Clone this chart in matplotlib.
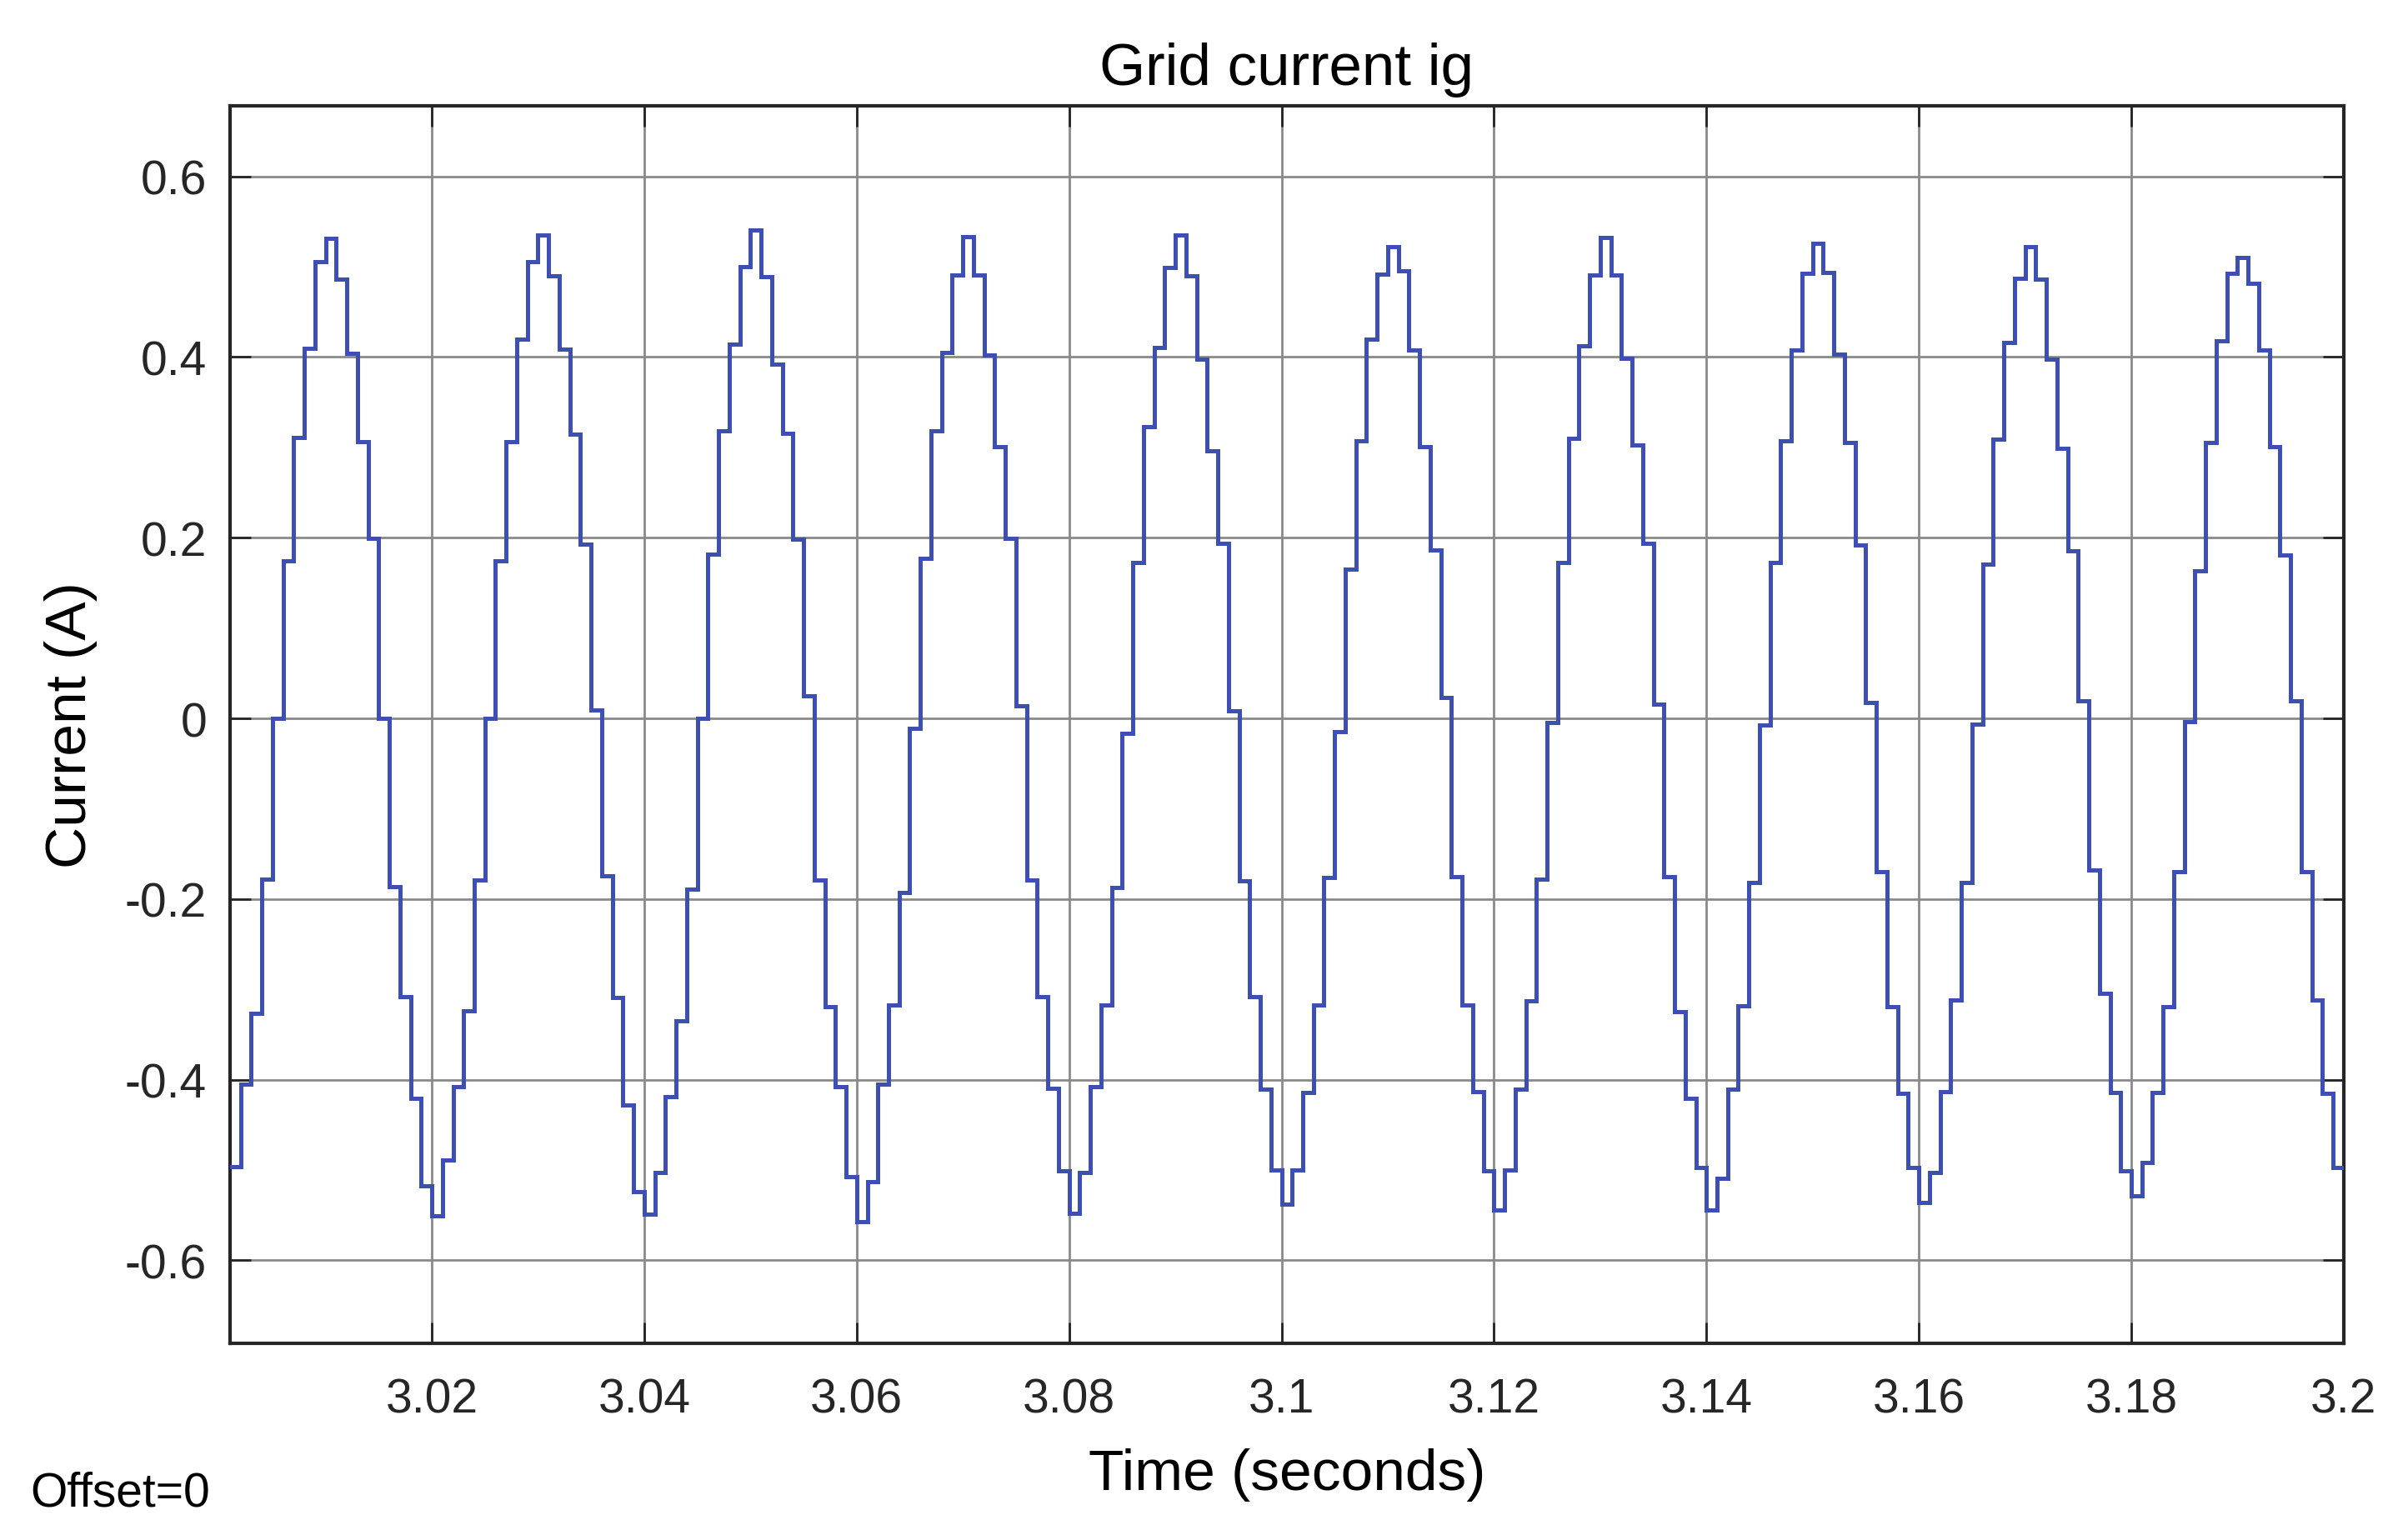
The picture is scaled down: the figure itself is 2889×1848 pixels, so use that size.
import numpy as np
import matplotlib
matplotlib.use("Agg")
import matplotlib.pyplot as plt

# ---- data (sample-and-hold, 1 ms steps) ----
t_first = 3.001        # first visible sample time (s)
dt = 0.001             # sample period (s)
t_end = 3.2

# cycle 1 starts at 3.001 (the sample at 3.000 is outside the view)
cycle1 = [-0.496, -0.405, -0.327, -0.178, 0.000, 0.174, 0.311, 0.410, 0.506, 0.531,
          0.486, 0.404, 0.306, 0.199, 0.000, -0.186, -0.308, -0.421, -0.518]
cycle2 = [-0.551, -0.489, -0.408, -0.324, -0.179, 0.000, 0.174, 0.306, 0.420, 0.506,
          0.535, 0.490, 0.409, 0.315, 0.193, 0.009, -0.174, -0.309, -0.428, -0.524]
cycle3 = [-0.549, -0.503, -0.419, -0.335, -0.189, 0.000, 0.182, 0.318, 0.414, 0.500,
          0.541, 0.489, 0.392, 0.316, 0.198, 0.025, -0.179, -0.319, -0.408, -0.507]
cycle4 = [-0.557, -0.513, -0.405, -0.317, -0.193, -0.011, 0.177, 0.318, 0.405, 0.491,
          0.533, 0.491, 0.402, 0.301, 0.199, 0.014, -0.179, -0.308, -0.410, -0.501]
cycle5 = [-0.548, -0.503, -0.408, -0.317, -0.187, -0.017, 0.173, 0.323, 0.411, 0.499,
          0.535, 0.490, 0.398, 0.296, 0.194, 0.008, -0.180, -0.308, -0.411, -0.500]
cycle6 = [-0.538, -0.500, -0.414, -0.317, -0.176, -0.015, 0.165, 0.307, 0.420, 0.492,
          0.522, 0.495, 0.408, 0.301, 0.186, 0.023, -0.175, -0.317, -0.413, -0.501]
cycle7 = [-0.544, -0.500, -0.411, -0.313, -0.178, -0.005, 0.173, 0.310, 0.412, 0.491,
          0.532, 0.491, 0.399, 0.303, 0.194, 0.016, -0.175, -0.325, -0.421, -0.497]
cycle8 = [-0.544, -0.509, -0.411, -0.318, -0.182, -0.007, 0.173, 0.307, 0.408, 0.493,
          0.526, 0.494, 0.403, 0.305, 0.192, 0.018, -0.170, -0.319, -0.415, -0.497]
cycle9 = [-0.536, -0.503, -0.413, -0.312, -0.182, -0.006, 0.171, 0.309, 0.416, 0.487,
          0.522, 0.486, 0.398, 0.299, 0.185, 0.019, -0.168, -0.304, -0.414, -0.501]
cycle10 = [-0.529, -0.492, -0.414, -0.319, -0.170, -0.004, 0.163, 0.305, 0.418, 0.493,
           0.510, 0.482, 0.408, 0.301, 0.181, 0.019, -0.170, -0.312, -0.415, -0.497]

xtick_values = [3.02, 3.04, 3.06, 3.08, 3.10, 3.12, 3.14, 3.16, 3.18, 3.20]
xtick_labels = ["3.02", "3.04", "3.06", "3.08", "3.1", "3.12", "3.14", "3.16", "3.18", "3.2"]
ytick_values = [-0.6, -0.4, -0.2, 0.0, 0.2, 0.4, 0.6]
ytick_labels = ["-0.6", "-0.4", "-0.2", "0", "0.2", "0.4", "0.6"]

title_text = "Grid current ig"
xlabel_text = "Time (seconds)"
ylabel_text = "Current (A)"
offset_text = "Offset=0"

# ---- assemble the held samples ----
values = np.array(cycle1 + cycle2 + cycle3 + cycle4 + cycle5 +
                  cycle6 + cycle7 + cycle8 + cycle9 + cycle10)
times = t_first + dt * np.arange(len(values))
times = np.append(times, t_end)
values = np.append(values, values[-1])

# ---- figure ----
plt.rcParams['font.family'] = ['Liberation Sans', 'DejaVu Sans']
fig = plt.figure(figsize=(28.89, 18.49), dpi=100)
ax = fig.add_axes([0.0955, 0.1276, 0.8778, 0.8031])

ax.plot(times, values, drawstyle='steps-post', color='#3d4fb3', linewidth=3.6,
        solid_joinstyle='miter', zorder=3)

ax.set_xlim(t_first, t_end)
ax.set_ylim(-0.692, 0.678)
ax.set_xticks(xtick_values)
ax.set_xticklabels(xtick_labels)
ax.set_yticks(ytick_values)
ax.set_yticklabels(ytick_labels)

ax.grid(True, color='#8a8a8a', linewidth=2.0, zorder=1)
ax.set_axisbelow(True)

ax.tick_params(axis='both', which='major', direction='in', length=18, width=2,
               colors='#262626', labelsize=41, top=True, right=True)
ax.tick_params(axis='x', pad=29)
ax.tick_params(axis='y', pad=20)
for s in ax.spines.values():
    s.set_linewidth(3.0)
    s.set_color('#262626')

ax.set_title(title_text, fontsize=51, color='black', pad=19)
ax.set_xlabel(xlabel_text, fontsize=50, color='black', labelpad=22)
ax.set_ylabel(ylabel_text, fontsize=50, color='black', labelpad=24)

fig.text(0.0125, 0.0222, offset_text, fontsize=41, color='black',
         ha='left', va='baseline')

fig.savefig("out.png", dpi=100, facecolor='white')
